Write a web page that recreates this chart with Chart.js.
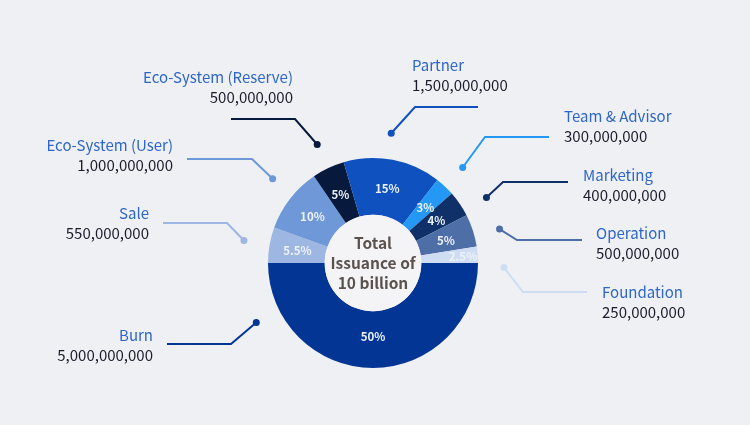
<!DOCTYPE html>
<html>
<head>
<meta charset="utf-8">
<script src="https://cdn.jsdelivr.net/npm/chart.js@4/dist/chart.umd.min.js"></script>
<style>
  body { margin: 0; background: #eff0f4; }
  #wrap { width: 750px; height: 425px; position: relative; }
</style>
</head>
<body>
<div id="wrap"><canvas id="c" width="750" height="425"></canvas></div>
<script>
  // allocation, clockwise starting at 3 o'clock
  const names = ["Burn", "Sale", "Eco-System (User)", "Eco-System (Reserve)", "Partner",
                 "Team & Advisor", "Marketing", "Operation", "Foundation"];
  const amounts = ["5,000,000,000", "550,000,000", "1,000,000,000", "500,000,000", "1,500,000,000",
                   "300,000,000", "400,000,000", "500,000,000", "250,000,000"];
  const shares = [50, 5.5, 10, 5, 15, 3, 4, 5, 2.5];
  const colors = ["#033594", "#9db6e2", "#6f98d8", "#071a3d", "#0f51bf",
                  "#2398f4", "#10306a", "#4e6ea8", "#cfddf3"];
  const centerLines = ["Total", "Issuance of", "10 billion"];

  const FONT = "'Noto Sans CJK KR', 'Noto Sans'";

  // callout layout: dot angle (deg, optional), elbow point, end of the horizontal run, text anchor
  const callouts = [
    { ang: 153, elbow: [231, 344], end: 167, tx: 153, ty: 335, align: "right" },
    { elbow: [227, 223], end: 163, tx: 149, ty: 213, align: "right" },
    { ang: 220, elbow: [252, 159], end: 187, tx: 173, ty: 145, align: "right" },
    { elbow: [295, 119], end: 231, tx: 293, ty: 77, align: "right" },
    { ang: 278, elbow: [415, 107], end: 478, tx: 412, ty: 65, align: "left" },
    { elbow: [485, 137], end: 549, tx: 564, ty: 116, align: "left" },
    { ang: 330, elbow: [503, 182], end: 568, tx: 583, ty: 175, align: "left" },
    { ang: 345, elbow: [517, 240], end: 582, tx: 596, ty: 233, align: "left" },
    { ang: 2, elbow: [523, 292], end: 587, tx: 602, ty: 292, align: "left" }
  ];

  const decor = {
    id: "decor",
    afterDatasetsDraw(chart) {
      const ctx = chart.ctx;
      const arcs = chart.getDatasetMeta(0).data;
      const cx = arcs[0].x, cy = arcs[0].y;
      const inner = arcs[0].innerRadius, outer = arcs[0].outerRadius;

      // hub
      ctx.save();
      ctx.beginPath();
      ctx.arc(cx, cy, inner, 0, Math.PI * 2);
      ctx.fillStyle = "#f4f4f7";
      ctx.fill();
      ctx.fillStyle = "#5b524e";
      ctx.font = "bold 15.5px " + FONT;
      ctx.textAlign = "center";
      ctx.textBaseline = "middle";
      centerLines.forEach((t, i) => ctx.fillText(t, cx, cy - 20 + i * 20));

      // percent labels
      ctx.font = "bold 11.5px " + FONT;
      arcs.forEach((a, i) => {
        const mid = (a.startAngle + a.endAngle) / 2;
        let r = (inner + outer) / 2;
        if (i === 0) r = outer * 0.69;
        if (i === 8) r = outer * 0.86;
        ctx.fillStyle = "#eef2fa";
        ctx.fillText(shares[i] + "%", cx + Math.cos(mid) * r, cy + Math.sin(mid) * r + 1);
      });

      // callouts
      arcs.forEach((a, i) => {
        const c = callouts[i];
        const mid = c.ang !== undefined ? c.ang * Math.PI / 180 : (a.startAngle + a.endAngle) / 2;
        const dx = cx + Math.cos(mid) * (outer + 26);
        const dy = cy + Math.sin(mid) * (outer + 26);
        ctx.strokeStyle = colors[i];
        ctx.lineWidth = 2;
        ctx.beginPath();
        ctx.moveTo(dx, dy);
        ctx.lineTo(c.elbow[0], c.elbow[1]);
        ctx.lineTo(c.end, c.elbow[1]);
        ctx.stroke();
        ctx.beginPath();
        ctx.arc(dx, dy, 3.5, 0, Math.PI * 2);
        ctx.fillStyle = colors[i];
        ctx.fill();

        ctx.textAlign = c.align;
        ctx.textBaseline = "middle";
        ctx.font = "15px " + FONT;
        ctx.fillStyle = "#2d66c8";
        ctx.fillText(names[i], c.tx, c.ty);
        ctx.fillStyle = "#1b1c2b";
        ctx.fillText(amounts[i], c.tx, c.ty + 20);
      });
      ctx.restore();
    }
  };

  new Chart(document.getElementById("c"), {
    type: "doughnut",
    data: {
      labels: names,
      datasets: [{
        data: shares,
        backgroundColor: colors,
        borderWidth: 0
      }]
    },
    options: {
      responsive: false,
      animation: false,
      rotation: 90,
      cutout: "46%",
      layout: { padding: { top: 158, bottom: 57, left: 268, right: 272 } },
      plugins: { legend: { display: false }, tooltip: { enabled: false } }
    },
    plugins: [decor]
  });
</script>
</body>
</html>
